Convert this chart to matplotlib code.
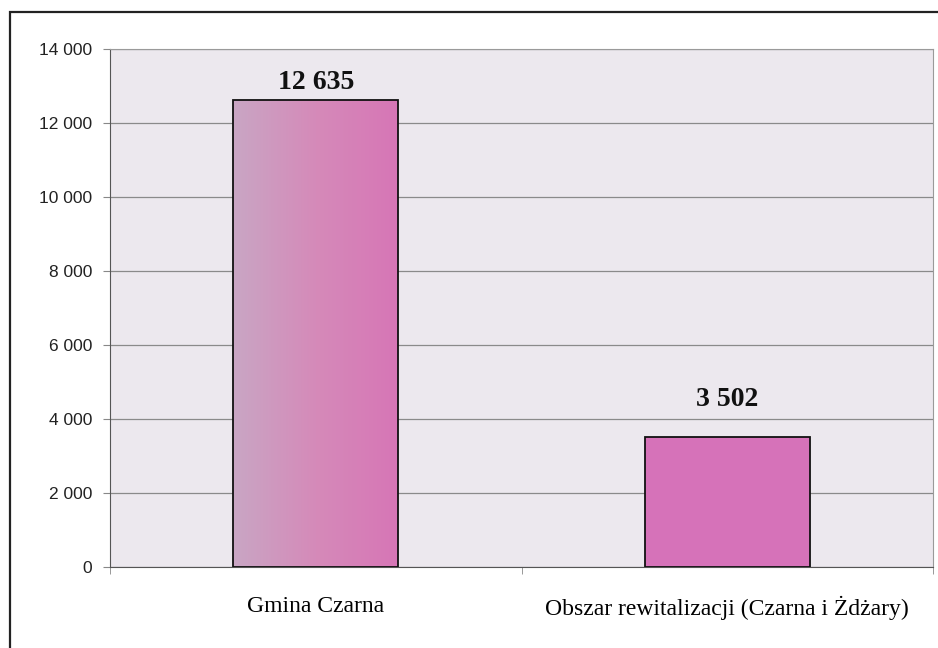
import matplotlib
matplotlib.use("Agg")
import matplotlib.pyplot as plt
import numpy as np
from matplotlib.colors import LinearSegmentedColormap
from matplotlib.ticker import FuncFormatter
from matplotlib.patches import Rectangle

categories = ["Gmina Czarna", "Obszar rewitalizacji (Czarna i Żdżary)"]
values = [12635, 3502]
value_labels = ["12 635", "3 502"]
yticks = [0, 2000, 4000, 6000, 8000, 10000, 12000, 14000]
label_gaps_pt = [3.5, 18.5]

fig = plt.figure(figsize=(9.38, 6.48), dpi=100)
fig.patch.set_facecolor("white")
# outer frame (clipped on right and bottom like the scan)
fig.add_artist(Rectangle((10/938, -0.05), 1.2, (648-12)/648 + 0.05, transform=fig.transFigure,
                         fill=False, edgecolor="#222222", linewidth=1.6))

ax = fig.add_axes([110/938, (648-567)/648, (933-110)/938, (567-49)/648])
ax.set_facecolor("#ece8ee")
ax.set_ylim(0, 14000)
ax.set_xlim(-0.5, 1.5)
ax.set_yticks(yticks)
ax.yaxis.set_major_formatter(FuncFormatter(lambda v, p: f"{int(v):,}".replace(",", " ")))
ax.grid(axis="y", color="#8a8a8a", linewidth=0.9)
ax.set_axisbelow(True)
for s in ["top", "right"]:
    ax.spines[s].set_color("#9a9a9a")
    ax.spines[s].set_linewidth(0.8)
ax.spines["left"].set_color("#555555")
ax.spines["bottom"].set_color("#555555")

x = np.arange(len(categories))
bars = ax.bar(x, values, width=0.4, color=["none", "#d672b9"], edgecolor="#111111", linewidth=1.3, zorder=3)

# gradient fill for the first bar
cmap = LinearSegmentedColormap.from_list("g", ["#c9a6c4", "#d58ab9", "#d776b6"])
b0 = bars[0]
grad = np.linspace(0, 1, 256).reshape(1, -1)
im = ax.imshow(grad, cmap=cmap, aspect="auto",
               extent=[b0.get_x(), b0.get_x() + b0.get_width(), 0, b0.get_height()], zorder=2.5)
im.set_clip_path(b0)
ax.set_xlim(-0.5, 1.5)
ax.set_ylim(0, 14000)

for xi, v, lab, gap in zip(x, values, value_labels, label_gaps_pt):
    ax.annotate(lab, (xi, v), xytext=(0, gap), textcoords="offset points",
                ha="center", va="bottom", fontsize=20, fontweight="bold",
                family="Liberation Serif", color="#111111")

ax.set_xticks(x)
ax.set_xticklabels(categories, family="Liberation Serif", fontsize=17)
ax.tick_params(axis="x", length=0, pad=21)
ax.set_xticks([-0.5, 0.5, 1.5], minor=True)
ax.tick_params(axis="x", which="minor", length=5, color="#888888")
ax.tick_params(axis="y", length=5, color="#888888", labelsize=12.5, pad=8)
for t in ax.get_yticklabels():
    t.set_family("Liberation Sans")
    t.set_color("#222222")

fig.savefig("out.png", dpi=100, facecolor="white")
